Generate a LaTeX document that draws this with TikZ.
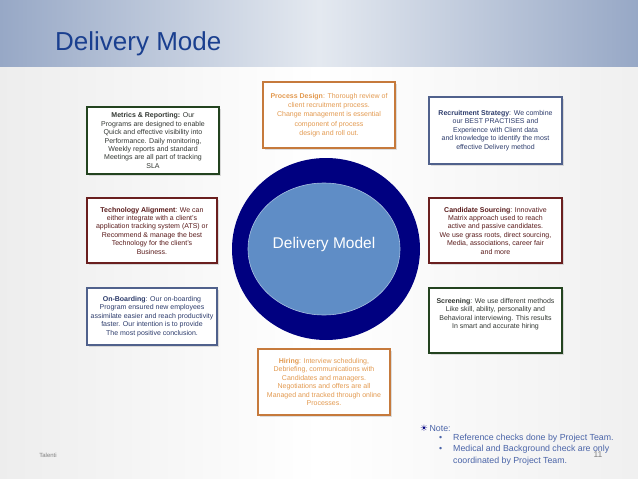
\documentclass[tikz,border=0pt]{standalone}
\usepackage{fontspec}
\setmainfont{Liberation Sans}
\newfontfamily\symfont{DejaVu Sans}
\usetikzlibrary{positioning, shapes.geometric, shadows}
\definecolor{bandedge}{HTML}{97A8C6}
\definecolor{bandmid}{HTML}{E4E9F0}
\definecolor{titleblue}{HTML}{1A3F8F}
\definecolor{ringnavy}{HTML}{000080}
\definecolor{coreblue}{HTML}{5F8DC6}
\definecolor{roleGreen}{HTML}{23431F}
\definecolor{roleGreenText}{HTML}{333833}
\definecolor{roleOrange}{HTML}{C67A3C}
\definecolor{roleOrangeText}{HTML}{E39A50}
\definecolor{roleSlate}{HTML}{50618C}
\definecolor{roleSlateText}{HTML}{2D3C6C}
\definecolor{roleRed}{HTML}{6A1F1F}
\definecolor{roleRedText}{HTML}{5A1B1B}
\definecolor{noteblue}{HTML}{4A64A8}

\begin{document}
\begin{tikzpicture}[x=1pt, y=-1pt,
    box/.style={rectangle, draw, fill=white, line width=1.6pt, align=center,
                inner sep=2pt, font=\fontsize{7}{8.4}\selectfont,
                drop shadow={shadow xshift=2pt, shadow yshift=-2pt, opacity=0.25}},
    greenbox/.style={box, draw=roleGreen, text=roleGreenText},
    orangebox/.style={box, draw=roleOrange, text=roleOrangeText},
    slatebox/.style={box, draw=roleSlate, text=roleSlateText},
    redbox/.style={box, draw=roleRed, text=roleRedText},
    notetxt/.style={font=\fontsize{8.8}{11.5}\selectfont, text=noteblue, inner sep=0pt},
  ]
  \useasboundingbox (0,0) rectangle (638,479);

  % Slide background and header band
  \shade[left color=gray!14, right color=gray!12, middle color=white] (0,0) rectangle (638,479);
  \shade[left color=bandedge, right color=bandedge, middle color=bandmid] (0,0) rectangle (638,66);
  \node[anchor=base west, inner sep=0pt, font=\fontsize{26}{30}\selectfont, text=titleblue]
    (title) at (55,50) {Delivery Mode};

  % Central ring
  \node[ellipse, fill=ringnavy, minimum width=188pt, minimum height=182pt] (ring) at (326,249) {};
  \node[ellipse, fill=coreblue, draw=coreblue!55!white, line width=0.6pt,
        minimum width=152pt, minimum height=132pt] (core) at (324,249) {};
  \node[font=\fontsize{15.5}{18}\selectfont, text=white] (coretxt) at ([yshift=5pt]core.center) {Delivery Model};

  % Left column
  \node[greenbox, minimum width=132pt, minimum height=67pt] (metrics) at (153,140.5)
    {\textbf{Metrics \& Reporting:} Our\\Programs are designed to enable\\Quick and effective visibility into\\Performance. Daily monitoring,\\Weekly reports and standard\\Meetings are all part of tracking\\SLA};
  \node[redbox, minimum width=130pt, minimum height=65pt] (techno) at (152,230.5)
    {\textbf{Technology Alignment}: We can\\either integrate with a client's\\application tracking system (ATS) or\\Recommend \& manage the best\\Technology for the client's\\Business.};
  \node[slatebox, minimum width=130pt, minimum height=57pt] (onboard) at (152,316.5)
    {\textbf{On-Boarding}: Our on-boarding\\Program ensured new employees\\assimilate easier and reach productivity\\faster. Our intention is to provide\\The most positive conclusion.};

  % Top and bottom
  \node[orangebox, minimum width=132pt, minimum height=66pt, font=\fontsize{7}{9.3}\selectfont] (process) at (329,115)
    {\textbf{Process Design}: Thorough review of\\client recruitment process.\\Change management is essential\\component of process\\design and roll out.};
  \node[orangebox, minimum width=132pt, minimum height=66pt] (hiring) at (324,382)
    {\textbf{Hiring}: Interview scheduling,\\Debriefing, communications with\\Candidates and managers.\\Negotiations and offers are all\\Managed and tracked through online\\Processes.};

  % Right column
  \node[slatebox, minimum width=133pt, minimum height=67pt] (recruit) at (495.5,130.5)
    {\textbf{Recruitment Strategy}: We combine\\our BEST PRACTISES and\\Experience with Client data\\and knowledge to identify the most\\effective Delivery method};
  \node[redbox, minimum width=133pt, minimum height=65pt] (sourcing) at (495.5,230.5)
    {\textbf{Candidate Sourcing}: Innovative\\Matrix approach used to reach\\active and passive candidates.\\We use grass roots, direct sourcing,\\Media, associations, career fair\\and more};
  \node[greenbox, minimum width=133pt, minimum height=65pt] (screen) at (495.5,320.5)
    {\textbf{Screening}: We use different methods\\Like skill, ability, personality and\\Behavioral interviewing. This results\\In smart and accurate hiring\\[6pt]\mbox{}};

  % Footer notes
  \node[notetxt, anchor=west] (notehead) at (420,428) {{\symfont\textcolor{ringnavy}{☀}}\,Note:};
  \node[notetxt, anchor=north west, align=left] (notelist) at (437,433.5)
    {\makebox[16pt][l]{\hspace{2pt}•}Reference checks done by Project Team.\\
     \makebox[16pt][l]{\hspace{2pt}•}Medical and Background check are only\\
     \hspace*{16pt}coordinated by Project Team.};
  \node[font=\fontsize{8.5}{9}\selectfont, text=gray] (pagenum) at (598,455) {11};
  \node[font=\fontsize{6}{7}\selectfont, text=gray] (brand) at (48,455) {Talenti};
\end{tikzpicture}
\end{document}
